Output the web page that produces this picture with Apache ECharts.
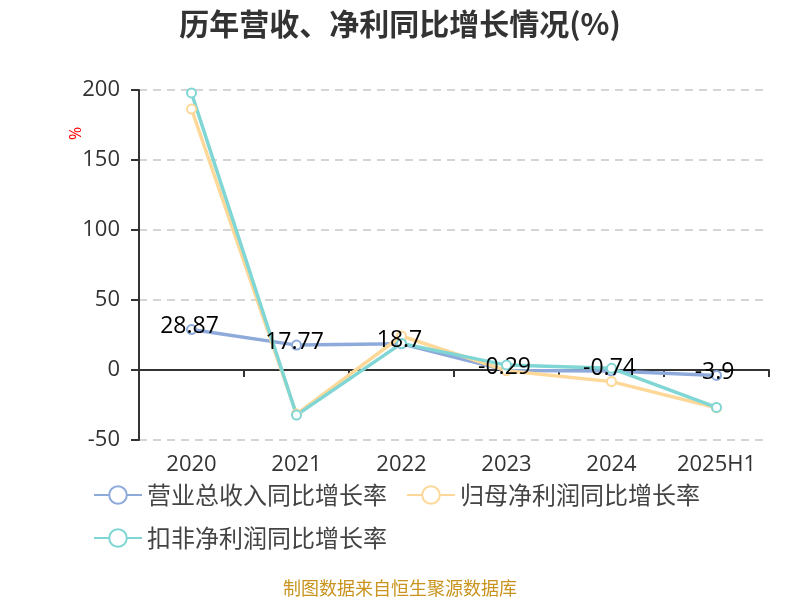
<!DOCTYPE html>
<html>
<head>
<meta charset="utf-8">
<script src="https://cdn.jsdelivr.net/npm/echarts@6/dist/echarts.min.js"></script>
<style>
  html, body { margin: 0; padding: 0; background: #fff; }
  #chart { width: 800px; height: 600px; }
</style>
</head>
<body>
<div id="chart"></div>
<script>
// 历年营收、净利同比增长情况
var years = ["2020", "2021", "2022", "2023", "2024", "2025H1"];
var revenueGrowth = [28.87, 17.77, 18.7, -0.29, -0.74, -3.9];
var netProfitGrowth = [186.4, -31.5, 24.3, -0.5, -8.3, -27.0];
var deductedProfitGrowth = [197.9, -32.2, 19.0, 3.5, 1.2, -26.7];

var names = ["营业总收入同比增长率", "归母净利润同比增长率", "扣非净利润同比增长率"];
var colors = ["#8eaadb", "#fdd898", "#7fd6d4"];

function makeSeries(name, data, color) {
  return {
    name: name,
    type: "line",
    data: data,
    symbol: "circle",
    symbolSize: 9,
    lineStyle: { width: 3.5, color: color },
    itemStyle: { color: "#fff", borderColor: color, borderWidth: 2 }
  };
}

var chart = echarts.init(document.getElementById("chart"), null, { renderer: "canvas" });
chart.setOption({
  animation: false,
  color: colors,
  title: {
    text: "历年营收、净利同比增长情况(%)",
    left: "center",
    top: 4,
    textStyle: { fontSize: 30, fontWeight: "bold", color: "#333", fontFamily: "Noto Sans CJK SC" }
  },
  grid: { left: 139, right: 31, top: 90, bottom: 160 },
  legend: {
    left: 88,
    top: 478,
    width: 700,
    itemWidth: 48,
    itemHeight: 22,
    itemGap: 19,
    textStyle: { fontSize: 24, color: "#444", fontFamily: "Noto Sans CJK SC", padding: [0, 13, 0, 0] },
    data: names
  },
  xAxis: {
    type: "category",
    data: years,
    axisLine: { onZero: true, lineStyle: { color: "#333", width: 2 } },
    axisTick: { show: true, length: 7, lineStyle: { color: "#333", width: 2 } },
    axisLabel: {
      fontSize: 22, color: "#333", fontFamily: "Open Sans",
      margin: 14,
      interval: 0
    }
  },
  yAxis: {
    type: "value",
    min: -50,
    max: 200,
    interval: 50,
    axisLine: { show: true, lineStyle: { color: "#333", width: 2 } },
    axisTick: { show: true, length: 8, lineStyle: { color: "#333", width: 2 } },
    axisLabel: { fontSize: 22, color: "#333", fontFamily: "Open Sans", margin: 19 },
    splitLine: { lineStyle: { type: [8, 6], color: "#c8c8c8", width: 1.5 } }
  },
  series: [
    makeSeries(names[0], revenueGrowth, colors[0]),
    makeSeries(names[1], netProfitGrowth, colors[1]),
    makeSeries(names[2], deductedProfitGrowth, colors[2]),
    {
      // value labels of the revenue series, kept on top of every line
      name: "labels",
      type: "line",
      data: revenueGrowth,
      z: 10,
      silent: true,
      symbol: "circle",
      symbolSize: 2,
      showSymbol: true,
      itemStyle: { color: "rgba(0,0,0,0)", borderWidth: 0 },
      lineStyle: { width: 0, opacity: 0 },
      label: {
        show: true,
        position: "inside",
        offset: [-2, -3],
        color: "#000",
        fontSize: 23,
        fontFamily: "Open Sans"
      }
    }
  ],
  graphic: [{
    type: "text",
    x: 68,
    y: 140,
    rotation: Math.PI / 2,
    style: { text: "%", fill: "#f00", fontSize: 16, fontFamily: "Open Sans" }
  }, {
    type: "text",
    left: "center",
    top: 579,
    style: {
      text: "制图数据来自恒生聚源数据库",
      fill: "#c8941e",
      fontSize: 18,
      fontFamily: "Noto Sans CJK SC"
    }
  }]
});
</script>
</body>
</html>
